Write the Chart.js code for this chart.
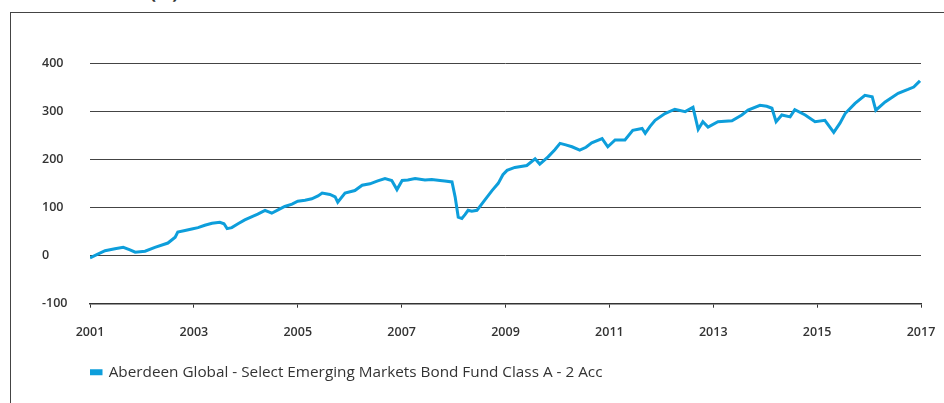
<!DOCTYPE html>
<html>
<head>
<meta charset="utf-8">
<script src="https://cdn.jsdelivr.net/npm/chart.js@4.4.0/dist/chart.umd.min.js"></script>
<style>
    html, body { margin: 0; padding: 0; background: #fff; overflow: hidden; }
    #wrap { position: relative; width: 944px; height: 403px; }
    #frame {
        position: absolute; left: 10px; top: 12px; width: 960px; height: 420px;
        border-left: 1.5px solid #444; border-top: 1.5px solid #444;
    }
    #title {
        position: absolute; left: 150px; top: -17px;
        font: bold 18px 'Open Sans', sans-serif; line-height: 18px; color: #333;
    }
    canvas { position: absolute; left: 0; top: 0; }
</style>
</head>
<body>
<div id="wrap">
    <div id="title">(%)</div>
    <div id="frame"></div>
    <canvas id="perfChart" width="944" height="403"></canvas>
</div>
<script>
// cumulative performance (decimal year, %)
const years = [
    2001.00, 2001.13, 2001.29, 2001.48, 2001.64, 2001.77, 2001.87, 2002.06, 2002.25, 2002.50,
    2002.64, 2002.69, 2002.83, 2002.96, 2003.08, 2003.21, 2003.35, 2003.50, 2003.58, 2003.64,
    2003.73, 2003.85, 2003.98, 2004.12, 2004.23, 2004.37, 2004.50, 2004.62, 2004.75, 2004.89,
    2005.00, 2005.14, 2005.27, 2005.39, 2005.47, 2005.62, 2005.72, 2005.77, 2005.91, 2006.10,
    2006.24, 2006.39, 2006.54, 2006.68, 2006.81, 2006.91, 2007.01, 2007.12, 2007.26, 2007.45,
    2007.58, 2007.74, 2007.83, 2007.97, 2008.03, 2008.09, 2008.16, 2008.22, 2008.28, 2008.35,
    2008.45, 2008.60, 2008.74, 2008.86, 2008.95, 2009.03, 2009.18, 2009.41, 2009.57, 2009.66,
    2009.82, 2009.95, 2010.05, 2010.16, 2010.28, 2010.43, 2010.55, 2010.66, 2010.86, 2010.97,
    2011.11, 2011.30, 2011.45, 2011.63, 2011.69, 2011.78, 2011.88, 2012.07, 2012.26, 2012.46,
    2012.61, 2012.71, 2012.80, 2012.90, 2013.09, 2013.36, 2013.55, 2013.67, 2013.90, 2014.03,
    2014.13, 2014.21, 2014.32, 2014.48, 2014.57, 2014.77, 2014.96, 2015.15, 2015.32, 2015.44,
    2015.54, 2015.73, 2015.92, 2016.06, 2016.13, 2016.31, 2016.56, 2016.75, 2016.86, 2016.98
]
const fundReturns = [
    -5, 2, 10, 14, 17, 12, 7, 9, 17, 26,
    38, 49, 52, 55, 58, 63, 67, 69, 66, 56,
    58, 66, 74, 81, 86, 94, 88, 95, 102, 107,
    113, 115, 118, 124, 130, 127, 122, 111, 130, 135,
    146, 149, 155, 160, 156, 137, 156, 157, 160, 157,
    158, 156, 155, 153, 122, 80, 77, 85, 94, 92,
    94, 115, 135, 150, 168, 177, 183, 187, 201, 190,
    205, 220, 233, 230, 226, 219, 225, 234, 243, 226,
    240, 240, 260, 264, 254, 268, 281, 295, 304, 299,
    308, 262, 278, 267, 278, 280, 292, 302, 312, 310,
    306, 278, 292, 288, 303, 292, 278, 281, 256, 275,
    295, 316, 333, 330, 302, 319, 337, 345, 350, 363
]
const seriesName = 'Aberdeen Global - Select Emerging Markets Bond Fund Class A - 2 Acc'
const xTicks = [2001, 2003, 2005, 2007, 2009, 2011, 2013, 2015, 2017]
const yTicks = [-100, 0, 100, 200, 300, 400]

const lineColor = '#0d9edb'
const inkColor = '#333'

Chart.defaults.font.family = "'Open Sans', sans-serif";
Chart.defaults.color = inkColor;

const ctx = document.getElementById('perfChart').getContext('2d');
const perfChart = new Chart(ctx, {
    type: 'line',
    data: {
        datasets: [
            {
                label: seriesName,
                data: years.map((t, i) => ({ x: t, y: fundReturns[i] })),
                borderColor: lineColor,
                backgroundColor: lineColor,
                borderWidth: 3,
                pointRadius: 0,
                tension: 0,
            }
        ]
    },
    options: {
        responsive: false,
        animation: false,
        layout: {
            padding: { left: 42, right: 23, top: 63, bottom: 13 }
        },
        scales: {
            x: {
                type: 'linear',
                min: xTicks[0],
                max: xTicks[xTicks.length - 1],
                afterBuildTicks: (scale) => { scale.ticks = xTicks.map(v => ({ value: v })); },
                // keep the plot edges fixed, and leave room above the legend
                afterFit: (scale) => {
                    scale.paddingLeft = 0;
                    scale.paddingRight = 0;
                    scale.height += 8;
                },
                ticks: {
                    callback: (v) => String(v),
                    font: { size: 12.5, weight: '600' },
                    padding: 17,
                    maxRotation: 0,
                },
                grid: {
                    drawOnChartArea: false,
                    tickLength: 4,
                    color: '#333',
                },
                border: { display: true, color: '#333', width: 1.5 },
            },
            y: {
                min: yTicks[0],
                max: yTicks[yTicks.length - 1],
                afterBuildTicks: (scale) => { scale.ticks = yTicks.map(v => ({ value: v })); },
                afterFit: (scale) => { scale.width = 48; },
                ticks: {
                    crossAlign: 'far',
                    font: { size: 12.5, weight: '600' },
                },
                grid: {
                    drawTicks: false,
                    color: '#444',
                    lineWidth: 1,
                },
                border: { display: false },
            }
        },
        plugins: {
            legend: {
                position: 'bottom',
                align: 'start',
                fullSize: false,
                labels: {
                    boxWidth: 11,
                    boxHeight: 3,
                    padding: 0,
                    color: inkColor,
                    font: { size: 15.3 },
                },
            },
            title: { display: false },
            tooltip: { enabled: false },
        },
    },
})
</script>
</body>
</html>
